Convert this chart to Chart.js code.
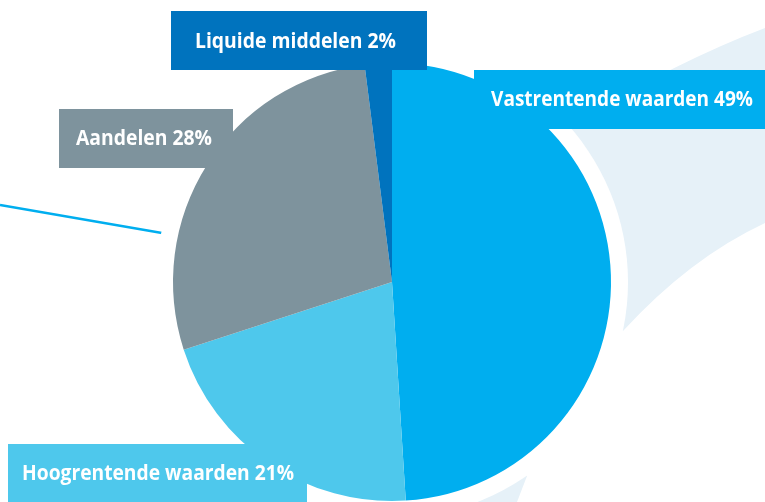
<!DOCTYPE html>
<html>
<head>
<meta charset="utf-8">
<script src="https://cdn.jsdelivr.net/npm/chart.js@4/dist/chart.umd.min.js"></script>
<style>
  html, body { margin: 0; padding: 0; background: #ffffff; }
  #wrap { position: relative; width: 765px; height: 502px; }
</style>
</head>
<body>
<div id="wrap"><canvas id="chart"></canvas></div>
<script>
// Asset allocation (percent)
const categories = ['Vastrentende waarden', 'Hoogrentende waarden', 'Aandelen', 'Liquide middelen'];
const percentages = [49, 21, 28, 2];

const sliceColors = ['#00AEEF', '#4EC8EC', '#7E939D', '#0073BE'];

// label boxes, one per category (same order): box rect + text start/baseline/width
const labelBoxes = [
  { x: 474, y: 70, w: 291, h: 59, tx: 491, ty: 106, tw: 262 },
  { x: 8, y: 444, w: 299, h: 58, tx: 22, ty: 480, tw: 272 },
  { x: 59, y: 109, w: 174, h: 59, tx: 76, ty: 145, tw: 136 },
  { x: 171, y: 11, w: 256, h: 59, tx: 195, ty: 48, tw: 201 }
];

// background swoosh + white halo behind the pie
const backdrop = {
  id: 'backdrop',
  beforeDatasetsDraw(chart) {
    const ctx = chart.ctx;
    const arc = chart.getDatasetMeta(0).data[0];
    const cx = arc.x, cy = arc.y, r = arc.outerRadius;
    ctx.save();
    ctx.fillStyle = '#E6F1F8';
    ctx.beginPath();
    ctx.moveTo(765, 28);
    ctx.quadraticCurveTo(680, 60, 570, 125);
    ctx.lineTo(540, 220);
    ctx.lineTo(600, 330);
    ctx.lineTo(623, 331);
    ctx.quadraticCurveTo(690, 258, 765, 223);
    ctx.closePath();
    ctx.fill();

    ctx.beginPath();
    ctx.moveTo(527, 476);
    ctx.lineTo(517, 502);
    ctx.lineTo(440, 502);
    ctx.lineTo(460, 440);
    ctx.closePath();
    ctx.fill();

    // thin blue line at the left
    ctx.strokeStyle = '#00AEEF';
    ctx.lineWidth = 2.5;
    ctx.beginPath();
    ctx.moveTo(0, 205);
    ctx.lineTo(162, 233);
    ctx.stroke();

    ctx.fillStyle = '#ffffff';
    ctx.beginPath();
    ctx.arc(cx, cy, r + 17, 0, Math.PI * 2);
    ctx.fill();
    ctx.restore();
  }
};

const boxLabels = {
  id: 'boxLabels',
  afterDatasetsDraw(chart) {
    const ctx = chart.ctx;
    ctx.save();
    ctx.font = 'bold 21px "Open Sans"';
    ctx.textBaseline = 'alphabetic';
    ctx.textAlign = 'left';
    categories.forEach((cat, i) => {
      const b = labelBoxes[i];
      ctx.fillStyle = sliceColors[i];
      ctx.fillRect(b.x, b.y, b.w, b.h);
      ctx.fillStyle = '#ffffff';
      ctx.fillText(cat + ' ' + percentages[i] + '%', b.tx, b.ty, b.tw);
    });
    ctx.restore();
  }
};

new Chart(document.getElementById('chart'), {
  type: 'pie',
  data: {
    labels: categories,
    datasets: [{
      data: percentages,
      backgroundColor: sliceColors,
      borderWidth: 0
    }]
  },
  options: {
    responsive: true,
    maintainAspectRatio: false,
    animation: false,
    layout: { padding: { top: 63, bottom: 1, left: 173, right: 154 } },
    plugins: {
      legend: { display: false },
      tooltip: { enabled: false }
    }
  },
  plugins: [backdrop, boxLabels]
});
</script>
</body>
</html>
